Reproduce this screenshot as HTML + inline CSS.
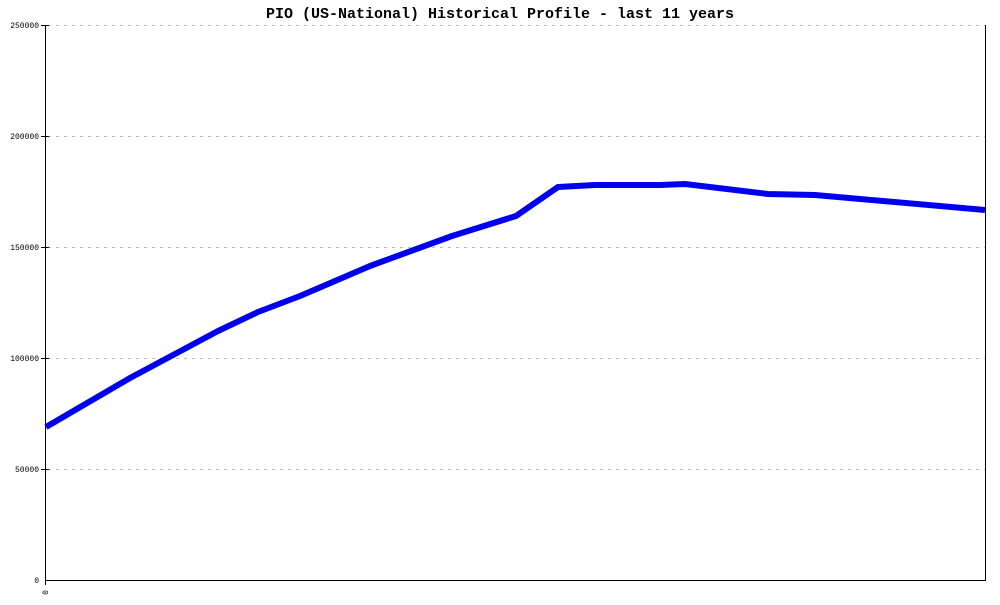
<!DOCTYPE html>
<html><head><style>body{margin:0;background:#fff}</style></head><body>
<svg width="1000" height="600" xmlns="http://www.w3.org/2000/svg" font-family="Liberation Mono, monospace">
<rect width="1000" height="600" fill="#fff"/>
<text x="500" y="18" text-anchor="middle" font-size="15" font-weight="bold">PIO (US-National) Historical Profile - last 11 years</text>
<g stroke="#bbb" stroke-dasharray="3,5" stroke-width="1">
<line x1="48" y1="25.5" x2="985" y2="25.5"/>
<line x1="48" y1="136.5" x2="985" y2="136.5"/>
<line x1="48" y1="247.5" x2="985" y2="247.5"/>
<line x1="48" y1="358.5" x2="985" y2="358.5"/>
<line x1="48" y1="469.5" x2="985" y2="469.5"/>
</g>
<g stroke="#000" stroke-width="1">
<line x1="45.5" y1="25" x2="45.5" y2="580"/>
<line x1="985.5" y1="25" x2="985.5" y2="580"/>
<line x1="45" y1="580.5" x2="986" y2="580.5"/>
<line x1="41" y1="25.5" x2="49" y2="25.5"/>
<line x1="41" y1="136.5" x2="49" y2="136.5"/>
<line x1="41" y1="247.5" x2="49" y2="247.5"/>
<line x1="41" y1="358.5" x2="49" y2="358.5"/>
<line x1="41" y1="469.5" x2="49" y2="469.5"/>
<line x1="45.5" y1="580" x2="45.5" y2="585"/>
</g>
<g font-size="8" text-anchor="end">
<text x="39" y="28">250000</text>
<text x="39" y="139">200000</text>
<text x="39" y="250">150000</text>
<text x="39" y="361">100000</text>
<text x="39" y="472">50000</text>
<text x="39" y="583">0</text>
</g>
<text x="0" y="0" font-size="8" transform="translate(48,590) rotate(-90)" text-anchor="end">0</text>
<polyline fill="none" stroke="#0000ee" stroke-width="6" stroke-linejoin="round" points="46,427 130,378 218,331 258,312 300,296 370,266 452,236 516,216 558,187 595,185 660,185 685,184 768,194 815,195 985,210"/>
</svg>
</body></html>
